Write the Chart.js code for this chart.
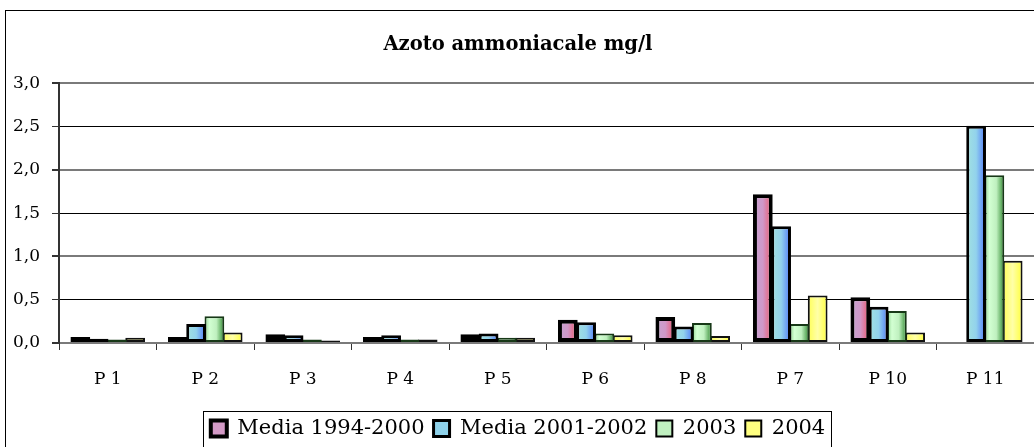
<!DOCTYPE html>
<html>
<head>
<meta charset="utf-8">
<script src="https://cdn.jsdelivr.net/npm/chart.js@4.4.1/dist/chart.umd.min.js"></script>
<style>
  body { margin: 0; background: #fff; }
  #wrap { width: 1034px; height: 447px; position: relative; }
</style>
</head>
<body>
<div id="wrap"><canvas id="myChart" width="1034" height="447"></canvas></div>
<script>
'use strict'

// Data

let categories = ['P 1', 'P 2', 'P 3', 'P 4', 'P 5', 'P 6', 'P 8', 'P 7', 'P 10', 'P 11'];
let media9400 = [0.07, 0.07, 0.10, 0.07, 0.10, 0.27, 0.30, 1.72, 0.53, null];
let media0102 = [0.05, 0.22, 0.09, 0.09, 0.11, 0.24, 0.19, 1.35, 0.42, 2.51];
let val2003 = [0.04, 0.31, 0.04, 0.04, 0.06, 0.11, 0.23, 0.22, 0.37, 1.94];
let val2004 = [0.06, 0.12, 0.03, 0.04, 0.06, 0.09, 0.08, 0.55, 0.12, 0.95];
let yTickLabels = ['0,0', '0,5', '1,0', '1,5', '2,0', '2,5', '3,0'];

const CAT_PCT = 0.75;
const BAR_PCT = 1.08;
const FONT = "'DejaVu Serif', 'Liberation Serif', serif";

// horizontal gradient across one bar, like the old excel fills
function barGradient(stops) {
  return function (ctx) {
    const chart = ctx.chart;
    const x = chart.scales.x;
    if (ctx.type !== 'data' || !x || !chart.chartArea) {
      return stops[1][1];
    }
    const catW = x.width / categories.length;
    const group = catW * CAT_PCT;
    const bw = group / 4;
    const center = x.getPixelForValue(ctx.dataIndex) - group / 2 + (ctx.datasetIndex + 0.5) * bw;
    const half = bw * BAR_PCT / 2;
    const g = chart.ctx.createLinearGradient(center - half, 0, center + half, 0);
    for (let i = 0; i < stops.length; i++) {
      g.addColorStop(stops[i][0], stops[i][1]);
    }
    return g;
  };
}

const pinkStops = [[0, '#c6a4d2'], [0.5, '#d098c8'], [0.78, '#e27090'], [1, '#ff2a50']];
const blueStops = [[0, '#a2e2e0'], [0.5, '#92d2ec'], [0.8, '#6a9cf4'], [1, '#3a66ff']];
const greenStops = [[0, '#8fd08f'], [0.25, '#d2ffd2'], [0.6, '#bff0bf'], [1, '#2f8a2f']];
const yellowStops = [[0, '#ffff55'], [0.5, '#ffffa8'], [1, '#ffff3a']];

// plugin: outer frame and the box round the legend
const framePlugin = {
  id: 'frame',
  beforeDraw(chart) {
    const c = chart.ctx;
    c.save();
    c.fillStyle = '#fff';
    c.fillRect(0, 0, chart.width, chart.height);
    c.strokeStyle = '#000';
    c.lineWidth = 1;
    c.strokeRect(5.5, 10.5, 1200, 600);
    c.restore();
  },
  afterDraw(chart) {
    const boxes = chart.legend.legendHitBoxes;
    if (!boxes || !boxes.length) return;
    let l = Infinity, r = -Infinity, t = Infinity;
    for (let i = 0; i < boxes.length; i++) {
      l = Math.min(l, boxes[i].left);
      r = Math.max(r, boxes[i].left + boxes[i].width);
      t = Math.min(t, boxes[i].top);
    }
    const c = chart.ctx;
    c.save();
    c.strokeStyle = '#000';
    c.lineWidth = 1;
    c.strokeRect(Math.round(l - 8) + 0.5, Math.round(t - 7) + 0.5, Math.round(r - l + 14), 100);
    c.restore();
  }
};

const data = {
  labels: categories,
  datasets: [{
    label: 'Media 1994-2000',
    data: media9400,
    backgroundColor: barGradient(pinkStops),
    borderColor: '#000',
    borderWidth: 4
  },
  {
    label: 'Media 2001-2002',
    data: media0102,
    backgroundColor: barGradient(blueStops),
    borderColor: '#000',
    borderWidth: 3
  },
  {
    label: '2003',
    data: val2003,
    backgroundColor: barGradient(greenStops),
    borderColor: '#173817',
    borderWidth: 2
  },
  {
    label: '2004',
    data: val2004,
    backgroundColor: barGradient(yellowStops),
    borderColor: '#111',
    borderWidth: 2
  }]
};

const legendFill = ['#d39ac6', '#8fd2ea', '#c0f0c0', '#ffff80'];
const legendBorder = [4, 3, 2, 2];

const config = {
  type: 'bar',
  data: data,
  plugins: [framePlugin],
  options: {
    responsive: false,
    animation: false,
    layout: { padding: { left: 0, right: -2, top: 0, bottom: -2 } },
    datasets: {
      bar: { barPercentage: BAR_PCT, categoryPercentage: CAT_PCT, borderSkipped: false }
    },
    plugins: {
      tooltip: { enabled: false },
      title: {
        display: true,
        text: 'Azoto ammoniacale mg/l',
        color: '#000',
        font: { family: FONT, size: 19.5, weight: 'bold' },
        padding: { top: 33, bottom: 27 }
      },
      legend: {
        position: 'bottom',
        labels: {
          color: '#000',
          font: { family: FONT, size: 21 },
          boxWidth: 16,
          boxHeight: 16,
          padding: 9,
          generateLabels(chart) {
            return chart.data.datasets.map(function (ds, i) {
              return {
                text: ds.label,
                fillStyle: legendFill[i],
                strokeStyle: '#000',
                lineWidth: legendBorder[i],
                fontColor: '#000',
                hidden: false,
                datasetIndex: i
              };
            });
          }
        }
      }
    },
    scales: {
      x: {
        offset: true,
        afterFit(scale) { scale.height = 66; },
        grid: {
          display: true,
          offset: true,
          drawOnChartArea: false,
          drawTicks: true,
          tickLength: 7,
          tickColor: '#333',
          lineWidth: 1
        },
        border: { display: true, color: '#7a7a7a', width: 2 },
        ticks: {
          color: '#000',
          font: { family: FONT, size: 17 },
          padding: 19,
          maxRotation: 0
        }
      },
      y: {
        min: 0,
        max: 3,
        afterFit(scale) { scale.width = 59; },
        ticks: {
          stepSize: 0.5,
          color: '#000',
          font: { family: FONT, size: 17 },
          padding: 12,
          callback: function (value, index) {
            return yTickLabels[index];
          }
        },
        grid: {
          color: function (ctx) {
            return (ctx.tick && ctx.tick.value % 1 === 0) ? '#7a7a7a' : '#000';
          },
          lineWidth: function (ctx) {
            return (ctx.tick && ctx.tick.value % 1 === 0) ? 2 : 1;
          },
          tickLength: 7,
          tickColor: '#333'
        },
        border: { display: true, color: '#333', width: 2 }
      }
    }
  }
};

const myChart = new Chart(document.getElementById('myChart'), config);
</script>
</body>
</html>
